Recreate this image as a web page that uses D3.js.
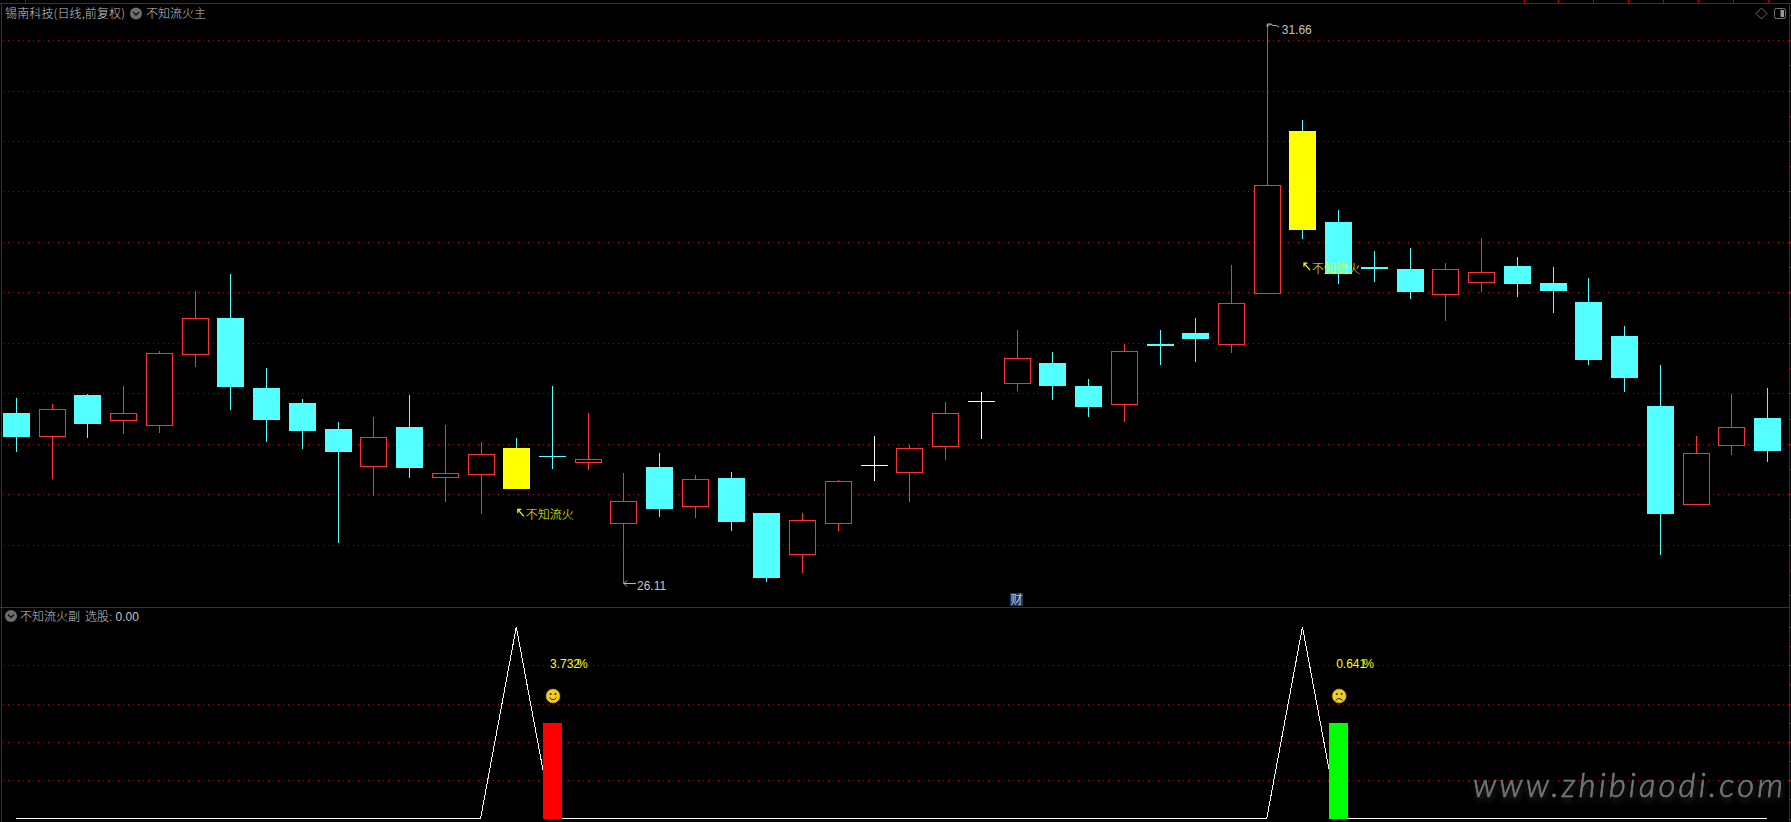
<!DOCTYPE html>
<html>
<head>
<meta charset="utf-8">
<script src="https://cdn.jsdelivr.net/npm/d3@7"></script>
<style>
  html, body { margin: 0; padding: 0; background: #000; overflow: hidden; }
  svg { display: block; }
  text { font-family: "Noto Sans CJK SC", "Noto Sans", sans-serif; font-size: 12px; font-weight: 300; }
  text.num { font-family: "Liberation Sans", sans-serif; font-weight: 400; }
</style>
</head>
<body>
<svg width="1791" height="822"></svg>
<script>
const opens = [27.80,27.58,27.98,27.74,27.69,28.39,28.75,28.05,27.90,27.65,
               27.28,27.67,27.17,27.20,27.46,27.38,27.32,26.71,27.27,26.88,
               27.16,26.81,26.41,26.71,27.29,27.22,27.48,27.92,28.10,28.30,
               28.07,27.89,28.49,28.60,28.49,28.99,30.60,29.70,29.25,29.23,
               28.98,29.10,29.26,29.09,28.90,28.57,27.87,26.90,27.49,27.76];
const closes = [27.57,27.84,27.70,27.80,28.40,28.75,28.06,27.74,27.63,27.42,
                27.57,27.26,27.21,27.40,27.05,27.37,27.35,26.93,26.85,27.15,
                26.72,26.17,26.74,27.13,27.29,27.46,27.80,27.92,28.35,28.07,
                27.86,28.42,28.47,28.54,28.89,30.06,29.62,29.18,29.23,29.00,
                29.23,29.20,29.08,29.01,28.33,28.15,26.80,27.41,27.67,27.43];
const highs = [27.95,27.89,27.99,28.07,28.42,29.01,29.18,28.25,27.94,27.72,
               27.77,27.98,27.69,27.52,27.56,28.07,27.80,27.21,27.41,27.19,
               27.22,26.81,26.81,27.14,27.58,27.49,27.91,28.01,28.63,28.41,
               28.14,28.49,28.63,28.75,29.27,31.66,30.71,29.82,29.41,29.44,
               29.29,29.54,29.35,29.25,29.14,28.67,28.28,27.58,27.99,28.05];
const lows = [27.42,27.15,27.56,27.60,27.61,28.26,27.83,27.52,27.45,26.52,
              26.98,27.16,26.92,26.80,27.05,27.25,27.24,26.11,26.77,26.76,
              26.64,26.13,26.22,26.64,27.13,26.92,27.34,27.55,28.02,27.93,
              27.77,27.72,28.28,28.31,28.40,28.99,29.53,29.08,29.10,28.93,
              28.72,29.00,28.95,28.80,28.28,28.01,26.40,26.90,27.39,27.32];
const signalDays = [14, 36];
const signalPrices = [26.80, 29.24];
const signalName = '不知流火';

const gridPrices = [26.5,27,27.5,28,28.5,29,29.5,30,30.5,31,31.5];
const priceTicks = d3.range(26, 31.76, 0.25);
const gridSub = [0.2,0.4,0.6,0.8];
const subTicks = d3.range(0, 1.01, 0.1);

const subLine = [0,0,0,0,0,0,0,0,0,0,0,0,0,0,1,0,0,0,0,0,0,0,0,0,0,
                 0,0,0,0,0,0,0,0,0,0,0,1,0,0,0,0,0,0,0,0,0,0,0,0,0];
const barDays = [15, 37];
const barValues = [0.5, 0.5];
const barLabels = ['3.732', '0.641'];
const topTabs = [25,1524,1558,1593,1628,1663,1698,1733,1768];

const svg = d3.select('svg');
const width = +svg.attr('width');
const height = +svg.attr('height');

const RED = '#ff3232', CYAN = '#54ffff', YELLOW = '#ffff00', BORDER = '#b00000', LABEL = '#c4c4c4';
const bodyW = 27;

const days = d3.range(opens.length);
const x = d3.scalePoint().domain(days).range([16, 1767]);
const y = d3.scaleLinear().domain([26.11, 31.66]).range([584, 24]);
const ySub = d3.scaleLinear().domain([0, 1]).range([818.5, 627]);
const px = v => Math.round(v);

svg.append('rect').attr('width', width).attr('height', height).attr('fill', '#000');

// grid
const crisp = svg.append('g').attr('shape-rendering', 'crispEdges');
const gridLine = (vals, scale) => crisp.append('g').selectAll('line').data(vals).enter().append('line')
  .attr('x1', 3).attr('x2', 1789)
  .attr('y1', d => px(scale(d)) + 0.5).attr('y2', d => px(scale(d)) + 0.5)
  .attr('stroke', BORDER).attr('stroke-dasharray', '1 4');
gridLine(gridPrices, y);
gridLine(gridSub, ySub);

// borders
const borders = [[0,3.5,1791,3.5],[1.5,3,1.5,822],[1789.5,3,1789.5,822],[0,607.5,1789,607.5]];
crisp.append('g').selectAll('line').data(borders).enter().append('line')
  .attr('x1', d => d[0]).attr('y1', d => d[1]).attr('x2', d => d[2]).attr('y2', d => d[3])
  .attr('stroke', BORDER);
crisp.append('g').selectAll('line').data(topTabs).enter().append('line')
  .attr('x1', d => d + 0.5).attr('x2', d => d + 0.5).attr('y1', 0).attr('y2', 3)
  .attr('stroke', BORDER);

// right edge ticks
const rightAxis = (scale, ticks) => {
  const g = crisp.append('g').attr('transform', 'translate(1789.5,0)')
    .call(d3.axisRight(scale).tickValues(ticks).tickSize(2).tickFormat(''));
  g.select('.domain').remove();
  g.selectAll('line').attr('stroke', BORDER);
  g.selectAll('.tick').attr('transform', function(d) { return `translate(0,${px(scale(d)) + 0.5})`; });
};
rightAxis(y, priceTicks);
rightAxis(ySub, subTicks);

// candles
const colorOf = i => {
  if (signalDays.includes(i)) return YELLOW;
  if (closes[i] === opens[i]) return '#ffffff';
  return closes[i] > opens[i] ? RED : CYAN;
};
const candles = crisp.append('g').selectAll('g').data(days).enter().append('g');
candles.append('line')
  .attr('x1', i => px(x(i)) + 0.5).attr('x2', i => px(x(i)) + 0.5)
  .attr('y1', i => px(y(highs[i]))).attr('y2', i => px(y(lows[i])))
  .attr('stroke', i => signalDays.includes(i) ? CYAN : colorOf(i));
candles.each(function(i) {
  const g = d3.select(this);
  const top = px(y(Math.max(opens[i], closes[i])));
  const bot = px(y(Math.min(opens[i], closes[i])));
  const left = px(x(i)) - 13;
  if (closes[i] > opens[i]) {
    g.append('rect').attr('x', left + 0.5).attr('y', top + 0.5)
      .attr('width', bodyW - 1).attr('height', bot - top)
      .attr('fill', '#000').attr('stroke', RED);
  } else {
    g.append('rect').attr('x', left).attr('y', top)
      .attr('width', bodyW).attr('height', Math.max(1, bot - top))
      .attr('fill', colorOf(i));
  }
});

// high / low marks
const extreme = svg.append('g').attr('fill', 'none').attr('stroke', '#b4b4b4');
const iHigh = d3.maxIndex(highs), iLow = d3.minIndex(lows);
extreme.append('path')
  .attr('d', `M${x(iHigh) + 0.5},${y(highs[iHigh]) + 3}l3,-3l3,1.5l3,0l3,1.5M${x(iHigh) + 0.5},${y(highs[iHigh]) + 3}v-3h4`);
extreme.append('path')
  .attr('d', `M${x(iLow) + 0.5},${y(lows[iLow]) - 0.5}h12M${x(iLow) + 3.5},${y(lows[iLow]) - 3.5}l-3,3l3,3`);
svg.append('text').attr('class', 'num').attr('x', x(iHigh) + 15).attr('y', y(highs[iHigh]) + 10).attr('fill', LABEL).text(d3.format('.2f')(highs[iHigh]));
svg.append('text').attr('class', 'num').attr('x', x(iLow) + 13.5).attr('y', y(lows[iLow]) + 6).attr('fill', LABEL).text(d3.format('.2f')(lows[iLow]));

// 不知流火 signal text
signalDays.forEach((d, k) => {
  const sx = x(d), sy = y(signalPrices[k]);
  svg.append('path').attr('fill', 'none').attr('stroke', YELLOW).attr('stroke-width', 1.2)
    .attr('d', `M${sx + 1.5},${sy - 5}l6,7M${sx + 1.5},${sy - 1.5}v-3.5h3.5`);
  svg.append('text').attr('x', sx + 9.5).attr('y', sy + 4.5).attr('fill', YELLOW).text(signalName);
});

// sub panel
crisp.append('path').datum(subLine)
  .attr('d', d3.line().x((d, i) => x(i)).y(d => ySub(d)))
  .attr('fill', 'none').attr('stroke', '#fff');
crisp.append('g').selectAll('rect').data(barDays).enter().append('rect')
  .attr('x', d => px(x(d)) - 9).attr('width', 19)
  .attr('y', (d, i) => px(ySub(barValues[i])))
  .attr('height', (d, i) => 819 - px(ySub(barValues[i])))
  .attr('fill', (d, i) => i === 0 ? '#ff0000' : '#00ff00');

// percentage labels, % is printed over the last digit as in the original
barDays.forEach((d, k) => {
  const lx = x(d) - 2;
  svg.append('text').attr('class', 'num').attr('x', lx).attr('y', 668).attr('fill', YELLOW).text(barLabels[k]);
  svg.append('text').attr('class', 'num').attr('x', lx + 27).attr('y', 668).attr('fill', YELLOW).text('%');
  // face
  const f = svg.append('g').attr('transform', `translate(${x(d) + 1},696)`);
  f.append('circle').attr('r', 7).attr('fill', '#f2cd1f').attr('stroke', '#b08d10').attr('stroke-width', 0.5);
  f.append('circle').attr('cx', -2.4).attr('cy', -2).attr('r', 1).attr('fill', '#222');
  f.append('circle').attr('cx', 2.4).attr('cy', -2).attr('r', 1).attr('fill', '#222');
  f.append('path').attr('fill', 'none').attr('stroke', '#222').attr('stroke-width', 1)
    .attr('d', k === 0 ? 'M-3.5,1.5Q0,6 3.5,1.5' : 'M-3.5,4.5Q0,0.5 3.5,4.5');
});

// titles
const icon = (cx, cy) => {
  const g = svg.append('g').attr('transform', `translate(${cx},${cy})`);
  g.append('circle').attr('r', 6).attr('fill', '#6e6e6e');
  g.append('path').attr('d', 'M-3,-1.5L0,1.5L3,-1.5').attr('fill', 'none').attr('stroke', '#111').attr('stroke-width', 1.3);
};
svg.append('text').attr('x', 5).attr('y', 18).attr('fill', LABEL).attr('textLength', 120).text('锡南科技(日线,前复权)');
icon(136, 13.5);
svg.append('text').attr('x', 146).attr('y', 18).attr('fill', LABEL).text('不知流火主');
icon(11, 616);
svg.append('text').attr('x', 20).attr('y', 620.5).attr('fill', LABEL).text('不知流火副');
svg.append('text').attr('x', 85).attr('y', 620.5).attr('fill', LABEL).text('选股:');
svg.append('text').attr('class', 'num').attr('x', 115.5).attr('y', 620.5).attr('fill', LABEL).text('0.00');

// 财 flag
svg.append('rect').attr('x', 1010).attr('y', 593).attr('width', 13).attr('height', 13).attr('fill', '#0c3a6c');
svg.append('text').attr('x', 1010.5).attr('y', 604).attr('fill', '#fff').text('财');

// top right icons
svg.append('path').attr('d', 'M1761.5,8l5.5,5.5l-5.5,5.5l-5.5,-5.5z').attr('fill', 'none').attr('stroke', '#6a6a6a');
svg.append('rect').attr('x', 1774.5).attr('y', 8.5).attr('width', 11).attr('height', 10).attr('rx', 2)
  .attr('fill', 'none').attr('stroke', '#777').attr('stroke-width', 1);
svg.append('rect').attr('x', 1780.5).attr('y', 10).attr('width', 3.5).attr('height', 7).attr('fill', '#999');

// watermark
const defs = svg.append('defs');
defs.append('filter').attr('id', 'wmShadow').attr('x', '-5%').attr('y', '-40%').attr('width', '110%').attr('height', '200%')
  .append('feDropShadow').attr('dx', 1).attr('dy', 4).attr('stdDeviation', 3).attr('flood-color', '#4a4a4a').attr('flood-opacity', 0.6);
svg.append('text').attr('x', 1473).attr('y', 797)
  .attr('textLength', 310).attr('lengthAdjust', 'spacing')
  .attr('filter', 'url(#wmShadow)')
  .style('font-family', 'Lato, "Open Sans", sans-serif').style('font-style', 'italic').style('font-size', '33px')
  .attr('fill', '#747474').attr('stroke', '#747474').attr('stroke-width', 0.7).text('www.zhibiaodi.com');
</script>
</body>
</html>
